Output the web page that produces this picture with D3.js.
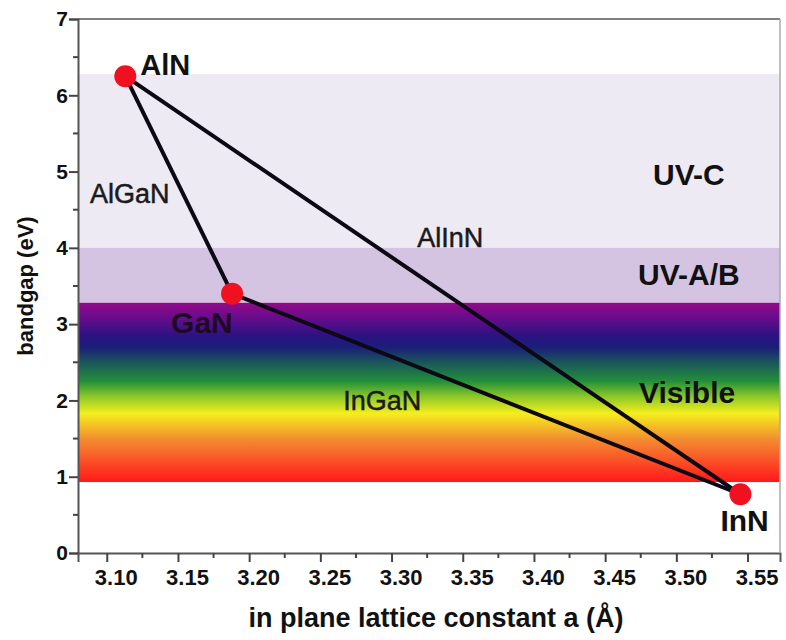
<!DOCTYPE html>
<html>
<head>
<meta charset="utf-8">
<script src="https://cdn.jsdelivr.net/npm/d3@7"></script>
<style>
  body { margin: 0; background: #fff; }
  text { font-family: "Liberation Sans", Arial, sans-serif; }
</style>
</head>
<body>
<svg width="786" height="640"></svg>
<script>
// compounds (lattice constant a in Å, bandgap in eV)
const compounds = ["AlN", "GaN", "InN"];
const latticeA = [3.113, 3.188, 3.545];
const bandgap = [6.25, 3.4, 0.77];

// alloy lines between compounds
const alloys = [
  { name: "AlGaN", from: "AlN", to: "GaN" },
  { name: "AlInN", from: "AlN", to: "InN" },
  { name: "InGaN", from: "GaN", to: "InN" }
];

// spectral bands (eV)
const bandNames = ["UV-C", "UV-A/B", "Visible"];
const bandLow = [4.0, 3.28, 0.93];
const bandHigh = [6.28, 4.0, 3.28];

// colour stops for visible band, by energy
const stopEnergy = [3.28, 3.1, 2.85, 2.7, 2.48, 2.25, 2.05, 1.83, 1.48, 1.05, 0.93];
const stopColor = ["#920a88", "#6c0c8c", "#2c1282", "#1a1e78", "#1a5a58", "#23903a", "#8cc828", "#f5ee1e", "#f38a30", "#ff3020", "#ff1818"];

const xTicks = [3.10, 3.15, 3.20, 3.25, 3.30, 3.35, 3.40, 3.45, 3.50, 3.55];
const yTicks = [0, 1, 2, 3, 4, 5, 6, 7];

const svg = d3.select("svg");
const mLeft = 78, mRight = 780, mTop = 19, mBottom = 553;

const x = d3.scaleLinear().domain([3.0798, 3.5728]).range([mLeft, mRight]);
const y = d3.scaleLinear().domain([0, 7]).range([mBottom, mTop]);

// gradient for visible band
const defs = svg.append("defs");
const grad = defs.append("linearGradient")
    .attr("id", "vis")
    .attr("gradientUnits", "userSpaceOnUse")
    .attr("x1", 0).attr("x2", 0)
    .attr("y1", y(bandHigh[2])).attr("y2", y(bandLow[2]));
stopEnergy.forEach((e, i) => {
  grad.append("stop")
    .attr("offset", (bandHigh[2] - e) / (bandHigh[2] - bandLow[2]))
    .attr("stop-color", stopColor[i]);
});

const bandFill = ["#eeeaf4", "#d5c3e2", "url(#vis)"];
svg.append("g").selectAll("rect")
  .data(bandNames)
  .enter().append("rect")
    .attr("x", mLeft)
    .attr("width", mRight - mLeft)
    .attr("y", (d, i) => y(bandHigh[i]))
    .attr("height", (d, i) => y(bandLow[i]) - y(bandHigh[i]))
    .attr("fill", (d, i) => bandFill[i]);

// band labels
const bandLabelX = [3.4836, 3.4731, 3.4738];
const bandLabelY = [4.82, 3.51, 1.97];
svg.append("g").selectAll("text")
  .data(bandNames)
  .enter().append("text")
    .attr("x", (d, i) => x(bandLabelX[i]))
    .attr("y", (d, i) => y(bandLabelY[i]))
    .attr("font-size", 30)
    .attr("font-weight", "bold")
    .attr("fill", "#111")
    .text(d => d);

// axes
const xAxis = svg.append("g")
    .attr("transform", `translate(0,${mBottom})`)
    .call(d3.axisBottom(x).tickValues(xTicks).tickFormat(d3.format(".2f")).tickSize(9).tickPadding(7));
const yAxis = svg.append("g")
    .attr("transform", `translate(${mLeft},0)`)
    .call(d3.axisLeft(y).tickValues(yTicks).tickFormat(d3.format("d")).tickSize(9).tickPadding(1));

// minor ticks
const xMinor = xTicks.map(v => v + 0.025).filter(v => v < 3.57);
svg.append("g").selectAll("line")
  .data(xMinor)
  .enter().append("line")
    .attr("x1", d => x(d)).attr("x2", d => x(d))
    .attr("y1", mBottom).attr("y2", mBottom + 5)
    .attr("stroke", "#444").attr("stroke-width", 2);
const yMinor = yTicks.slice(0, -1).map(v => v + 0.5);
svg.append("g").selectAll("line")
  .data(yMinor)
  .enter().append("line")
    .attr("x1", mLeft - 5).attr("x2", mLeft)
    .attr("y1", d => y(d)).attr("y2", d => y(d))
    .attr("stroke", "#444").attr("stroke-width", 2);

[xAxis, yAxis].forEach(a => {
  a.select(".domain").attr("stroke", "#555").attr("stroke-width", 2);
  a.selectAll(".tick line").attr("stroke", "#444").attr("stroke-width", 2);
  a.selectAll(".tick text")
    .attr("font-weight", "bold")
    .attr("fill", "#111");
});
xAxis.selectAll(".tick text").attr("font-size", 22).attr("dx", 9);
yAxis.selectAll(".tick text").attr("font-size", 21);

// frame top and right
svg.append("line").attr("x1", mLeft).attr("x2", mRight).attr("y1", mTop).attr("y2", mTop)
  .attr("stroke", "#555").attr("stroke-width", 1.5);
svg.append("line").attr("x1", mRight).attr("x2", mRight).attr("y1", mTop).attr("y2", mBottom)
  .attr("stroke", "#aaa").attr("stroke-width", 1.5);

// alloy lines
const idx = name => compounds.indexOf(name);
svg.append("g").selectAll("line")
  .data(alloys)
  .enter().append("line")
    .attr("x1", d => x(latticeA[idx(d.from)]))
    .attr("y1", d => y(bandgap[idx(d.from)]))
    .attr("x2", d => x(latticeA[idx(d.to)]))
    .attr("y2", d => y(bandgap[idx(d.to)]))
    .attr("stroke", "#0c0814")
    .attr("stroke-width", 4);

// alloy labels
const alloyLabelX = [3.0882, 3.318, 3.266];
const alloyLabelY = [4.59, 4.01, 1.87];
svg.append("g").selectAll("text")
  .data(alloys)
  .enter().append("text")
    .attr("x", (d, i) => x(alloyLabelX[i]))
    .attr("y", (d, i) => y(alloyLabelY[i]))
    .attr("font-size", 27)
    .attr("fill", "#1a1a1a")
    .attr("stroke", "#1a1a1a")
    .attr("stroke-width", 0.5)
    .text(d => d.name);

// compound points
svg.append("g").selectAll("circle")
  .data(compounds)
  .enter().append("circle")
    .attr("cx", (d, i) => x(latticeA[i]))
    .attr("cy", (d, i) => y(bandgap[i]))
    .attr("r", 11)
    .attr("fill", "#f01020");

// compound labels
const compLabelDx = [15, -61, -20];
const compLabelDy = [-1, 39, 37];
svg.append("g").selectAll("text")
  .data(compounds)
  .enter().append("text")
    .attr("x", (d, i) => x(latticeA[i]) + compLabelDx[i])
    .attr("y", (d, i) => y(bandgap[i]) + compLabelDy[i])
    .attr("font-size", (d, i) => i === 0 ? 29 : 30)
    .attr("font-weight", "bold")
    .attr("fill", (d, i) => i === 1 ? "#1e0a24" : "#111")
    .text(d => d);

// axis titles
svg.append("text")
  .attr("x", 436).attr("y", 627)
  .attr("text-anchor", "middle")
  .attr("font-size", 27)
  .attr("font-weight", "bold")
  .attr("fill", "#111")
  .text("in plane lattice constant a (Å)");
svg.append("text")
  .attr("transform", "translate(33,286) rotate(-90)")
  .attr("text-anchor", "middle")
  .attr("font-size", 22)
  .attr("font-weight", "bold")
  .attr("fill", "#111")
  .text("bandgap (eV)");
</script>
</body>
</html>
